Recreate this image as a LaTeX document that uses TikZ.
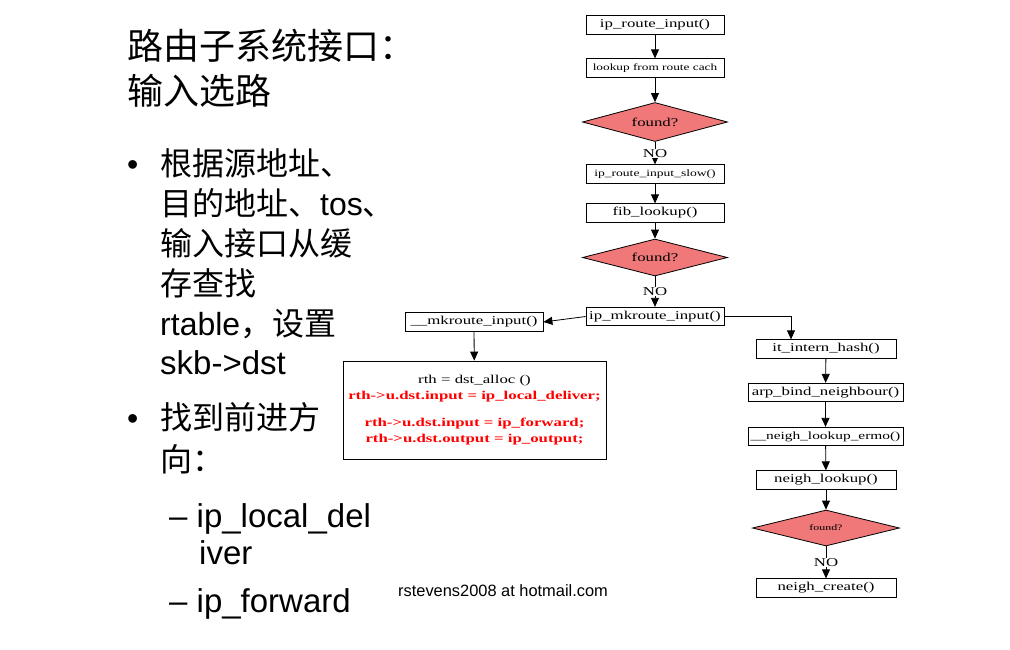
\documentclass[tikz,border=0pt]{standalone}
\usepackage{fontspec}
\usetikzlibrary{shapes.geometric,arrows.meta}
\newfontfamily\cjk{Noto Sans CJK SC}
\newfontfamily\arial{Liberation Sans}
\newfontfamily\fl[FakeStretch=1.4]{Liberation Serif}
\newcommand{\fsz}[1]{\fontsize{#1}{#1}\selectfont}
\definecolor{salmonfill}{RGB}{240,120,120}
\tikzset{
  box/.style={draw, line width=0.8pt, fill=white, minimum width=138pt, minimum height=18.5pt, inner sep=1pt, font=\fl\fsz{12}},
  dia/.style={draw, line width=0.8pt, fill=salmonfill, diamond, aspect=3.6, inner sep=0pt, minimum width=145pt, minimum height=39pt, font=\fl\fsz{12}},
  arr/.style={line width=0.8pt, -{Triangle[length=9pt,width=8pt]}},
  nolab/.style={fill=white, inner sep=0.5pt, font=\fl\fsz{12}},
  big/.style={font=\cjk\fsz{32}, anchor=base west, inner sep=0pt},
  ttl/.style={font=\cjk\fsz{36}, anchor=base west, inner sep=0pt},
}
\begin{document}
\begin{tikzpicture}[x=1pt,y=-1pt]
\useasboundingbox (0,0) rectangle (1010,649);
% left text
\node[ttl] (t1) at (127,59) {路由子系统接口：};
\node[ttl] (t2) at (127,104) {输入选路};
\node[big,font=\arial\fsz{32}] (b1) at (127,175) {•};
\node[big] (l1) at (160,175) {根据源地址、};
\node[big] (l2) at (160,215) {目的地址、{\arial tos}、};
\node[big] (l3) at (160,255) {输入接口从缓};
\node[big] (l4) at (160,295) {存查找};
\node[big] (l5) at (160,335) {{\arial rtable}，设置};
\node[big,font=\arial\fsz{33}] (l6) at (160,374) {skb->dst};
\node[big,font=\arial\fsz{32}] (b2) at (127,429) {•};
\node[big] (l7) at (160,429) {找到前进方};
\node[big] (l8) at (160,471) {向：};
\node[big,font=\arial\fsz{33}] (s1) at (169,527) {– ip\_local\_del};
\node[big,font=\arial\fsz{33}] (s2) at (199,564) {iver};
\node[big,font=\arial\fsz{33}] (s3) at (169,612) {– ip\_forward};
\node[big,font=\arial\fsz{16.4}] (mail) at (398,596) {rstevens2008 at hotmail.com};
% flowchart
\node[box] (a1) at (655,25) {ip\_route\_input()};
\node[box,font=\fl\fsz{9.5}] (a2) at (655,68) {lookup from route cach};
\node[dia] (d1) at (655,122) {found?};
\node[box,font=\fl\fsz{9.7}] (a3) at (655,174) {ip\_route\_input\_slow()};
\node[box] (a4) at (655,213) {fib\_lookup()};
\node[dia,minimum height=37pt] (d2) at (655,257.5) {found?};
\node[box] (a5) at (655,316.5) {ip\_mkroute\_input()};
\node[box] (m1) at (474,322) {\_\_mkroute\_input()};
\node[draw, line width=0.8pt, fill=white, minimum width=263pt, minimum height=98pt, align=center, inner sep=0pt, font=\fl\fontsize{12}{16}\selectfont] (m2) at (474.5,410)
  {rth = dst\_alloc ()\\
   \textcolor{red}{\bfseries rth->u.dst.input = ip\_local\_deliver;}\\[11pt]
   \textcolor{red}{\bfseries rth->u.dst.input = ip\_forward;}\\
   \textcolor{red}{\bfseries rth->u.dst.output = ip\_output;}};
\node[box,minimum width=140pt] (r1) at (826,349) {it\_intern\_hash()};
\node[box,minimum width=155pt] (r2) at (825.5,392.5) {arp\_bind\_neighbour()};
\node[box,minimum width=155pt,font=\fl\fsz{11}] (r3) at (825.5,436.5) {\_\_neigh\_lookup\_ermo()};
\node[box,minimum width=140pt] (r4) at (826,480) {neigh\_lookup()};
\node[dia,minimum width=147pt,minimum height=36pt,font=\fl\fsz{8.5}] (d3) at (826,528) {found?};
\node[box,minimum width=140pt] (r5) at (826,588) {neigh\_create()};
% connectors
\draw[arr] (a1) -- (a2);
\draw[arr] (a2) -- (d1);
\draw[arr] (d1) -- node[nolab] (n1) {NO} (a3);
\draw[arr] (a3) -- (a4);
\draw[arr] (a4) -- (d2);
\draw[arr] (d2) -- node[nolab] (n2) {NO} (a5);
\draw[arr] (a5.west) -- (m1.east);
\draw[arr] (m1) -- (m2);
\draw[arr] (a5.east) -| ([xshift=-35pt]r1.north);
\draw[arr] (r1) -- (r2);
\draw[arr] (r2) -- (r3);
\draw[arr] (r3) -- (r4);
\draw[arr] (r4) -- (d3);
\draw[arr] (d3) -- node[nolab] (n3) {NO} (r5);
\end{tikzpicture}
\end{document}
